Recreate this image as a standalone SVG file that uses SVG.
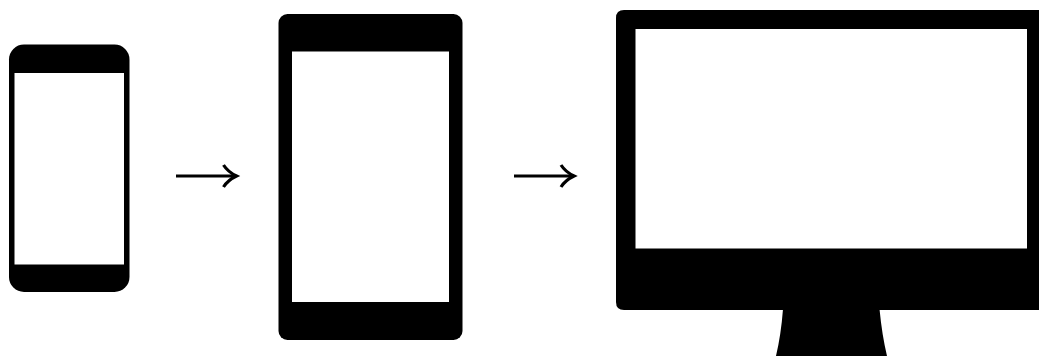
<svg xmlns="http://www.w3.org/2000/svg" width="1039" height="356" viewBox="0 0 1039 356">
<style>
.body{fill:#000}
.screen{fill:#fff}
.arrow{fill:none;stroke:#000;stroke-width:3.2}
.shaft{stroke-width:3}
</style>
<rect width="1039" height="356" fill="#fff"/>
<g id="phone">
<rect class="body" x="9" y="44.500" width="120.500" height="247.500" rx="15"/>
<rect class="screen" x="14.500" y="73" width="109.500" height="191.500"/>
</g>
<g id="tablet">
<rect class="body" x="278.500" y="14" width="184" height="326" rx="9"/>
<rect class="screen" x="292" y="51.500" width="157" height="250.500"/>
</g>
<g id="monitor">
<path class="body" d="M624 10H1039V310H624Q616 310 616 302V18Q616 10 624 10Z"/>
<path class="body" d="M783 309H879.500Q882 335 887 356H776Q781 335 783 309Z"/>
<rect class="screen" x="635.500" y="29" width="391.500" height="219.500"/>
</g>
<g id="connectors">
<path class="arrow shaft" d="M176 176H236"/>
<path class="arrow" d="M223.500 165Q228 172 236.500 176Q228 180 223.500 187"/>
<path class="arrow shaft" d="M514 176H574"/>
<path class="arrow" d="M561 165Q565.500 172 574 176Q565.500 180 561 187"/>
</g>
</svg>
